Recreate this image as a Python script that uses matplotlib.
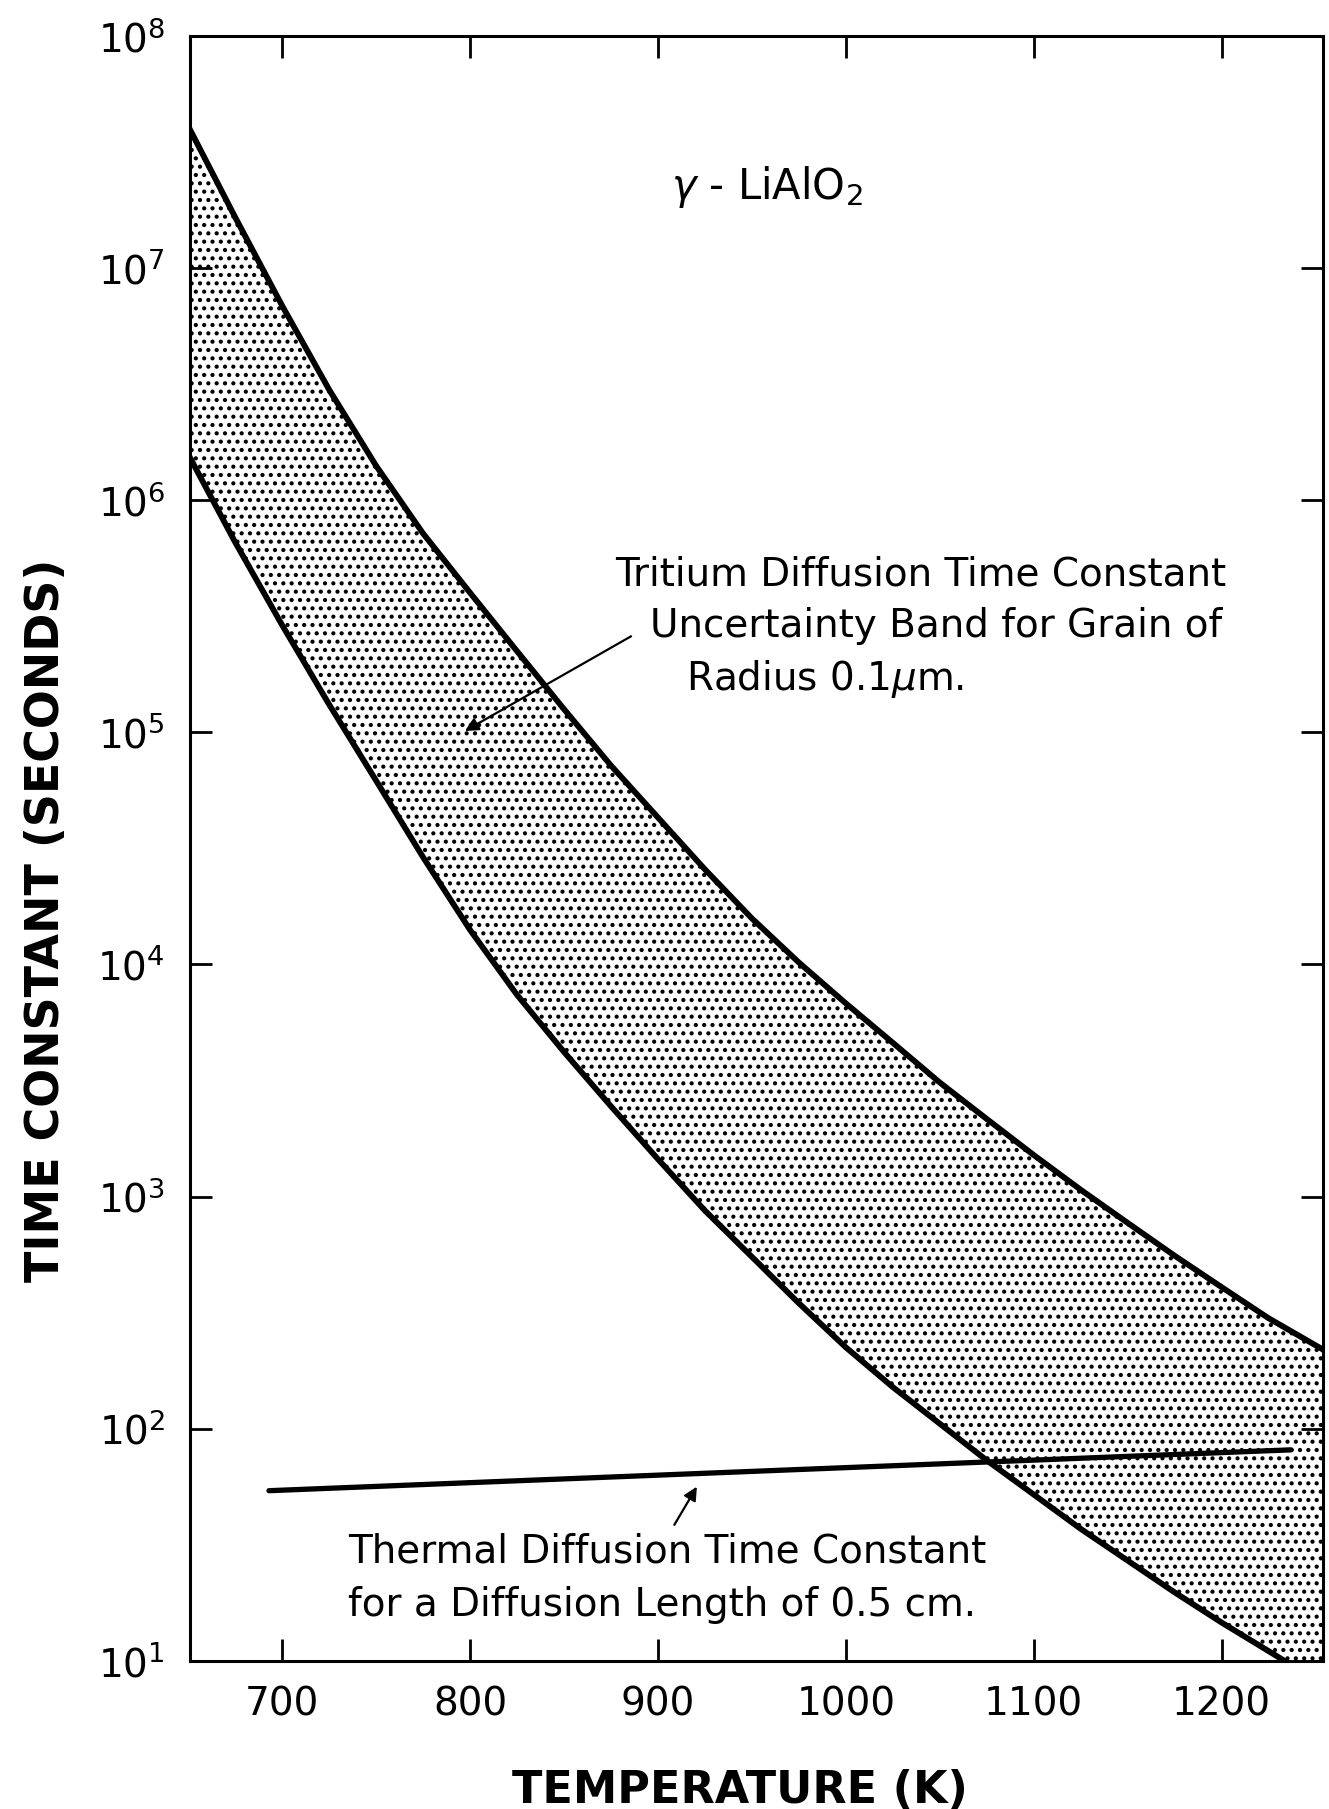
import numpy as np
import matplotlib.pyplot as plt

# temperatures (K) and time constants (s)
temp = [650, 675, 700, 725, 750, 775, 800, 825, 850, 875, 900, 925, 950,
        975, 1000, 1025, 1050, 1075, 1100, 1125, 1150, 1175, 1200, 1225, 1254]
# upper / lower edge of the tritium diffusion uncertainty band
tc_upper = [4.1e7, 1.66e7, 6.9e6, 3.0e6, 1.41e6, 7.2e5, 4.0e5, 2.24e5, 1.26e5,
            7.2e4, 4.3e4, 2.57e4, 1.58e4, 1.02e4, 6.8e3, 4.6e3, 3.1e3, 2.16e3,
            1.51e3, 1.07e3, 770, 556, 407, 299, 219]
tc_lower = [1.58e6, 6.6e5, 2.9e5, 1.32e5, 6.2e4, 2.9e4, 1.41e4, 7.4e3, 4.2e3,
            2.45e3, 1.45e3, 870, 550, 347, 224, 151, 105, 73, 52, 37, 27,
            19.7, 14.6, 11.0, 7.9]

# thermal diffusion time constant, 0.5 cm diffusion length
temp_thermal = [693, 1237]
tc_thermal = [54, 81]

xticks = [700, 800, 900, 1000, 1100, 1200]
yticks = [1e1, 1e2, 1e3, 1e4, 1e5, 1e6, 1e7, 1e8]
ytick_labels = [r'$10^{%d}$' % i for i in range(1, 9)]

plt.rcParams['font.family'] = ['DejaVu Sans']
plt.rcParams['hatch.linewidth'] = 1.8
plt.rcParams['hatch.color'] = 'black'

fig = plt.figure(figsize=(13.29, 18.09), dpi=100)
ax = fig.add_axes([0.143, 0.082, 0.8525, 0.898])

# stippled band
ax.fill_between(temp, tc_lower, tc_upper, facecolor='white', edgecolor='black',
                linewidth=0, hatch='..')
ax.plot(temp, tc_upper, color='black', lw=4.2, solid_joinstyle='round')
ax.plot(temp, tc_lower, color='black', lw=4.2, solid_joinstyle='round')
ax.plot(temp_thermal, tc_thermal, color='black', lw=3.8, solid_capstyle='round')

ax.set_yscale('log')
ax.set_xlim(651, 1254)
ax.set_ylim(1e1, 1e8)
ax.set_xticks(xticks)
ax.set_xticklabels([str(t) for t in xticks])
ax.set_yticks(yticks)
ax.set_yticklabels(ytick_labels)
ax.minorticks_off()
ax.tick_params(direction='in', length=16, width=2, labelsize=28, pad=18,
               top=True, right=True)
for s in ax.spines.values():
    s.set_linewidth(2.2)

ax.text(958, 10**7.35, r'$\gamma$ - LiAlO$_2$', fontsize=30, ha='center', va='center')

ax.text(877, 10**5.68, 'Tritium Diffusion Time Constant', fontsize=28, va='center')
ax.text(896, 10**5.46, 'Uncertainty Band for Grain of', fontsize=28, va='center')
ax.text(915, 10**5.23, r'Radius 0.1$\mu$m.', fontsize=28, va='center')
ax.annotate('', xy=(796, 10**5.0), xytext=(887, 10**5.42),
            arrowprops=dict(arrowstyle='-|>', color='black', lw=1.6,
                            mutation_scale=20))

ax.text(735, 10**1.47, 'Thermal Diffusion Time Constant', fontsize=28, va='center')
ax.text(735, 10**1.24, 'for a Diffusion Length of 0.5 cm.', fontsize=28, va='center')
ax.annotate('', xy=(921.5, 10**1.76), xytext=(908, 10**1.575),
            arrowprops=dict(arrowstyle='-|>', color='black', lw=1.6,
                            mutation_scale=20))

fig.text(0.557, 0.0105, 'TEMPERATURE (K)', fontsize=32, fontweight='bold',
         ha='center', va='center')
fig.text(0.035, 0.491, 'TIME CONSTANT (SECONDS)', fontsize=33, fontweight='bold',
         rotation=90, ha='center', va='center')

fig.savefig('out.png', dpi=100)
